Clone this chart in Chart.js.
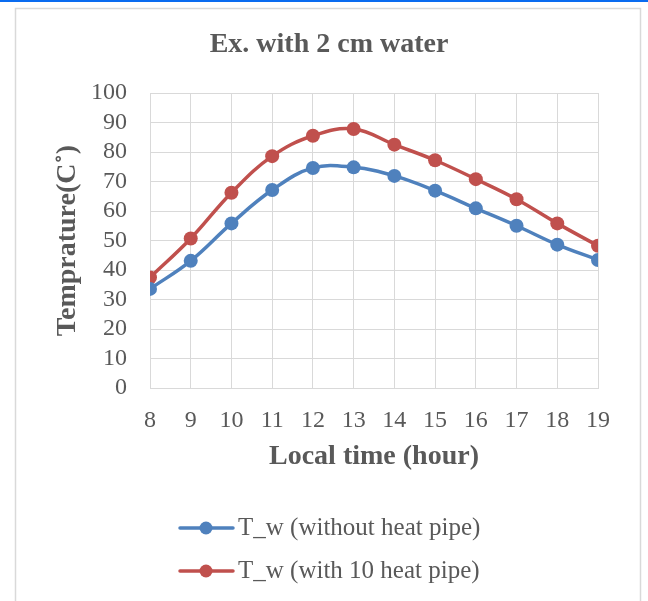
<!DOCTYPE html>
<html><head><meta charset="utf-8">
<script src="https://cdn.jsdelivr.net/npm/chart.js"></script>
<style>html,body{margin:0;padding:0;background:#fff;}#wrap{width:648px;height:601px;}</style>
</head><body><div id="wrap"><canvas id="c" width="648" height="601"></canvas></div>
<script>
const hours = [8, 9, 10, 11, 12, 13, 14, 15, 16, 17, 18, 19];
const tWithoutHeatPipe = [33.6, 43.1, 55.8, 67.1, 74.6, 74.8, 71.9, 66.9, 60.9, 55.0, 48.6, 43.4];
const tWith10HeatPipe = [37.5, 50.7, 66.2, 78.6, 85.5, 87.8, 82.5, 77.2, 70.8, 64.0, 55.8, 48.2];
const seriesNames = ['T_w (without heat pipe)', 'T_w (with 10 heat pipe)'];
const chartTitle = 'Ex. with 2 cm water';
const xTitle = 'Local time (hour)';
const yTitle = 'Temprature(C˚)';

const TXT = '#595959';
const GRID = '#d9d9d9';
const BLUE = '#4f81bd';
const RED = '#c0504d';

const framePlugin = {
  id: 'frame',
  beforeDraw(chart) {
    const ctx = chart.ctx;
    ctx.save();
    ctx.fillStyle = '#fff';
    ctx.fillRect(0, 0, chart.width, chart.height);
    ctx.fillStyle = '#0a6cf0';
    ctx.fillRect(0, 0, chart.width, 2);
    ctx.strokeStyle = GRID;
    ctx.lineWidth = 1.5;
    ctx.strokeRect(15.5, 8.5, 625, 620);
    ctx.restore();
  },
  afterDraw(chart) {
    const ctx = chart.ctx;
    ctx.save();
    ctx.fillStyle = TXT;
    ctx.font = 'bold 28px "Liberation Serif"';
    ctx.textAlign = 'center';
    ctx.textBaseline = 'middle';
    ctx.fillText(chartTitle, 329, 45);
    ctx.restore();
  }
};

const legendPlugin = {
  id: 'vlegend',
  afterDraw(chart) {
    const ctx = chart.ctx;
    ctx.save();
    chart.data.datasets.forEach((ds, i) => {
      const y = 528 + i * 43;
      ctx.strokeStyle = ds.borderColor;
      ctx.lineWidth = 3.5;
      ctx.lineCap = 'round';
      ctx.beginPath();
      ctx.moveTo(180, y);
      ctx.lineTo(233, y);
      ctx.stroke();
      ctx.fillStyle = ds.borderColor;
      ctx.beginPath();
      ctx.arc(206, y, 6.5, 0, Math.PI * 2);
      ctx.fill();
      ctx.fillStyle = TXT;
      ctx.font = '25px "Liberation Serif"';
      ctx.textBaseline = 'middle';
      ctx.textAlign = 'left';
      ctx.fillText(ds.label, 238, y);
    });
    ctx.restore();
  }
};

new Chart(document.getElementById('c'), {
  type: 'line',
  data: {
    datasets: [
      {
        label: seriesNames[0],
        data: hours.map((h, i) => ({x: h, y: tWithoutHeatPipe[i]})),
        borderColor: BLUE, backgroundColor: BLUE,
        pointBackgroundColor: BLUE, pointBorderColor: BLUE,
        borderWidth: 3.5, pointRadius: 7, pointBorderWidth: 0,
        tension: 0.4, cubicInterpolationMode: 'default'
      },
      {
        label: seriesNames[1],
        data: hours.map((h, i) => ({x: h, y: tWith10HeatPipe[i]})),
        borderColor: RED, backgroundColor: RED,
        pointBackgroundColor: RED, pointBorderColor: RED,
        borderWidth: 3.5, pointRadius: 7, pointBorderWidth: 0,
        tension: 0.4, cubicInterpolationMode: 'default'
      }
    ]
  },
  options: {
    responsive: false,
    animation: false,
    devicePixelRatio: 1,
    layout: {padding: {left: 15, right: 50, top: 93, bottom: 123}},
    plugins: {
      legend: {display: false},
      tooltip: {enabled: false},
      title: {display: false}
    },
    scales: {
      x: {
        type: 'linear', min: 8, max: 19,
        grid: {color: GRID, lineWidth: 1, drawTicks: false},
        border: {color: GRID, width: 1},
        ticks: {stepSize: 1, autoSkip: false, color: TXT, padding: 18, font: {family: '"Liberation Serif"', size: 24}},
        title: {display: true, text: xTitle, color: TXT, padding: {top: 0, bottom: 4},
          font: {family: '"Liberation Serif"', size: 28, weight: 'bold', lineHeight: 1.2}},
        afterFit(s) { s.height = 90; }
      },
      y: {
        min: 0, max: 100,
        grid: {color: GRID, lineWidth: 1, drawTicks: false},
        border: {color: GRID, width: 1},
        ticks: {stepSize: 10, autoSkip: false, color: TXT, padding: 23, font: {family: '"Liberation Serif"', size: 24}},
        title: {display: true, text: yTitle, color: TXT, padding: {top: 36, bottom: 0},
          font: {family: '"Liberation Serif"', size: 28, weight: 'bold', lineHeight: 1.2}},
        afterFit(s) { s.width = 135; }
      }
    }
  },
  plugins: [framePlugin, legendPlugin]
});
</script>
</body></html>
